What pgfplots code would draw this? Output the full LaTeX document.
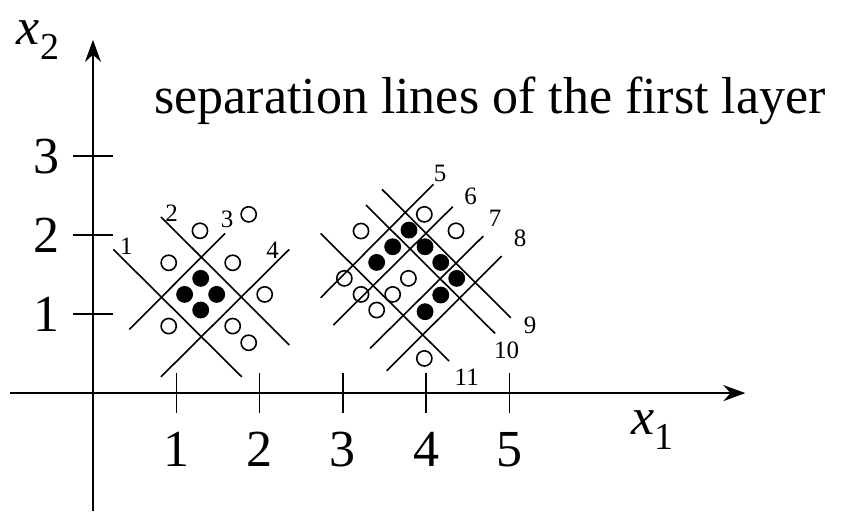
\documentclass[border=0pt]{standalone}
\usepackage{fontspec}
\setmainfont{LiberationSerif}[Extension=.ttf, UprightFont=*-Regular, ItalicFont=*-Italic, BoldFont=*-Bold, BoldItalicFont=*-BoldItalic]
\usepackage{pgfplots}
\pgfplotsset{compat=1.18}
\usetikzlibrary{arrows.meta}
\begin{document}
\begin{tikzpicture}
\begin{axis}[
  x=41.65pt, y=39.5pt,
  axis lines=middle,
  axis line style={line width=1pt},
  x axis line style={-{Stealth[length=11pt,width=8pt]}},
  y axis line style={-{Stealth[length=11pt,width=8pt]}},
  xmin=-1, xmax=7.83, ymin=-1.49, ymax=4.47,
  xtick={1,2,3,4,5}, ytick={1,2,3},
  tick align=center,
  major tick length=20pt,
  tick style={line width=0.8pt, black},
  /pgf/number format/assume math mode=true,
  ticklabel style={font=\rmfamily\fontsize{26}{30}\selectfont},
  xticklabel style={yshift=-6pt},
  yticklabel style={xshift=-3pt},
  clip=false,
]
\coordinate (bl) at (axis cs:-1.116,-1.494);
\coordinate (tr) at (axis cs:8.99,4.975);

% separation lines, left group
\addplot[black, line width=0.8pt] coordinates {(0.244,1.819) (1.785,0.206)};
\addplot[black, line width=0.8pt] coordinates {(0.816,2.230) (2.356,0.608)};
\addplot[black, line width=0.8pt] coordinates {(0.436,0.806) (1.585,2.020)};
\addplot[black, line width=0.8pt] coordinates {(0.816,0.206) (2.356,1.819)};
% separation lines, right group
\addplot[black, line width=0.8pt] coordinates {(2.733,1.207) (4.085,2.642)};
\addplot[black, line width=0.8pt] coordinates {(2.885,0.861) (4.318,2.359)};
\addplot[black, line width=0.8pt] coordinates {(3.325,0.565) (4.685,1.987)};
\addplot[black, line width=0.8pt] coordinates {(3.525,0.282) (4.906,1.734)};
\addplot[black, line width=0.8pt] coordinates {(3.469,2.578) (5.014,0.953)};
\addplot[black, line width=0.8pt] coordinates {(3.277,2.380) (4.826,0.755)};
\addplot[black, line width=0.8pt] coordinates {(2.733,2.020) (4.274,0.405)};

% open circles
\addplot[only marks, mark=o, mark size=3.8pt, mark options={line width=0.8pt, black, fill=white}] coordinates {
 (1.284,2.054) (1.869,2.262) (0.909,1.649) (1.677,1.649) (2.061,1.249)
 (0.909,0.848) (1.677,0.848) (1.869,0.637)
 (3.977,2.262) (3.217,2.051) (4.357,2.054) (3.017,1.452) (3.786,1.452)
 (3.217,1.249) (3.597,1.249) (3.405,1.051) (3.977,0.439)
};
% filled circles
\addplot[only marks, mark=*, mark size=4pt, mark options={black, fill=black}] coordinates {
 (1.293,1.452) (1.100,1.249) (1.485,1.249) (1.293,1.051)
 (3.793,2.063) (3.597,1.852) (3.986,1.852) (3.405,1.654) (4.174,1.654)
 (4.366,1.452) (4.174,1.241) (3.986,1.030)
};

% line numbers
\begin{scope}[every node/.style={font=\rmfamily\fontsize{12.5}{14}\selectfont, inner sep=0pt}]
\node at (axis cs:0.40,1.86) {1};
\node at (axis cs:0.945,2.28) {2};
\node at (axis cs:1.61,2.20) {3};
\node at (axis cs:2.157,1.81) {4};
\node at (axis cs:4.166,2.78) {5};
\node at (axis cs:4.534,2.485) {6};
\node at (axis cs:4.826,2.21) {7};
\node at (axis cs:5.126,1.958) {8};
\node at (axis cs:5.246,0.861) {9};
\node at (axis cs:4.966,0.544) {10};
\node at (axis cs:4.486,0.206) {11};
\end{scope}

% title
\node[anchor=base, inner sep=0pt, font=\rmfamily\fontsize{26}{30}\selectfont] at (axis cs:4.766,3.544) {separation lines of the first layer};

% axis names
\node[inner sep=0pt, font=\rmfamily\fontsize{26}{30}\selectfont] at (axis cs:-0.66,4.47) {\textit{x}\raisebox{-0.28em}{\fontsize{19}{22}\selectfont 2}};
\node[inner sep=0pt, font=\rmfamily\fontsize{26}{30}\selectfont] at (axis cs:6.72,-0.47) {\textit{x}\raisebox{-0.28em}{\fontsize{19}{22}\selectfont 1}};
\end{axis}
\pgfresetboundingbox
\useasboundingbox (bl) rectangle (tr);
\end{tikzpicture}
\end{document}
